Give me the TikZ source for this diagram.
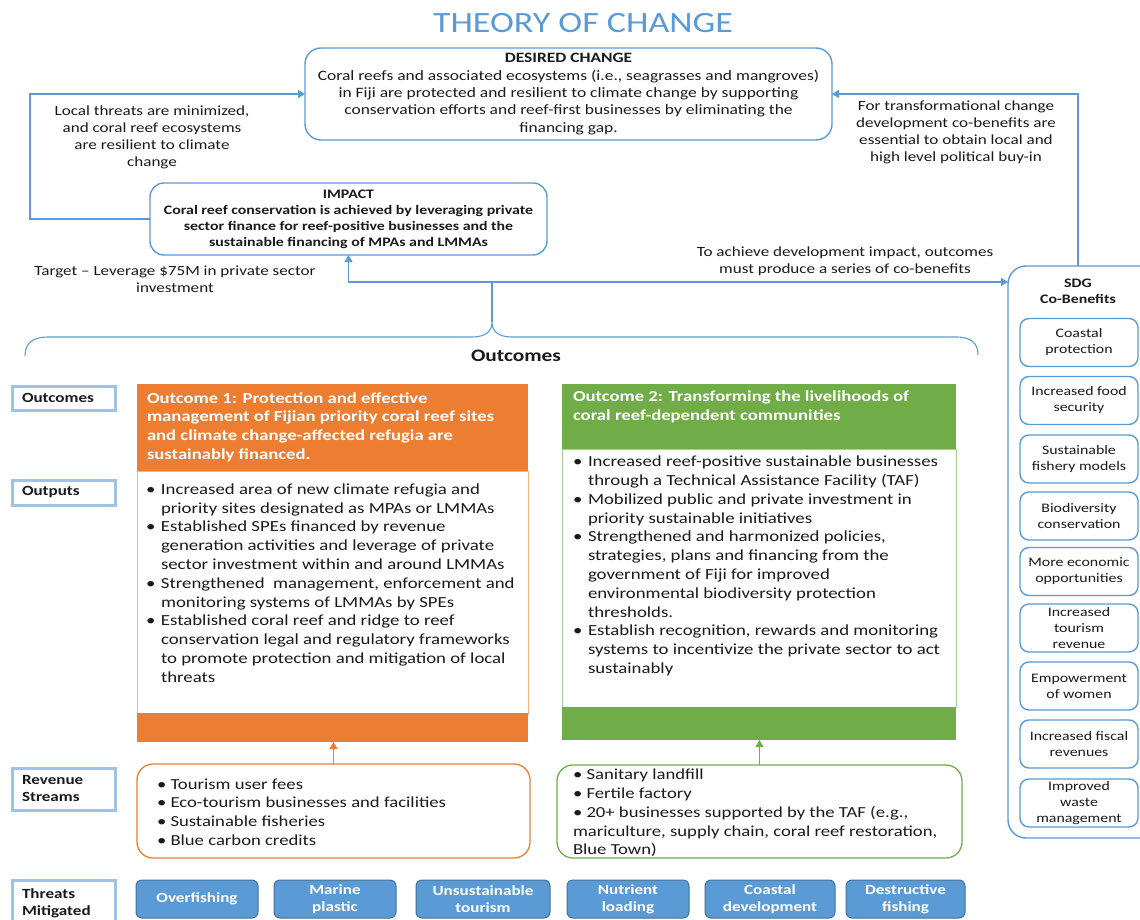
\documentclass[tikz,border=0pt]{standalone}
\usepackage{fontspec}
\setmainfont{Carlito}[FakeStretch=1.22]
\usetikzlibrary{arrows.meta}
\definecolor{lineblue}{HTML}{5B9BD5}
\definecolor{titleblue}{HTML}{5B9BD5}
\definecolor{labelblue}{HTML}{9DC3E6}
\definecolor{oorange}{HTML}{ED7D31}
\definecolor{ogreen}{HTML}{70AD47}
\definecolor{lorange}{HTML}{F4B183}
\definecolor{lgreen}{HTML}{A9D18E}
\definecolor{tfill}{HTML}{5B9BD5}
\definecolor{tdraw}{HTML}{41719C}
\definecolor{txt}{HTML}{1A1A1A}
\newcommand{\fsz}[2]{\fontsize{#1}{#2}\selectfont}
\newcommand{\bul}{\makebox[15pt][l]{\textbullet}}
\newcommand{\ind}{\hspace*{15pt}}
\begin{document}
\begin{tikzpicture}[x=1pt,y=-1pt,
  every node/.style={inner sep=0pt, outer sep=0pt, text=txt},
  conn/.style={draw=lineblue, line width=1.4pt},
  arr/.style={conn, -{Triangle[width=8pt,length=7pt]}},
  oarr/.style={draw=oorange, line width=1.2pt, -{Triangle[width=8pt,length=7pt]}},
  garr/.style={draw=ogreen, line width=1.2pt, -{Triangle[width=8pt,length=7pt]}},
  bluebox/.style={draw=lineblue, line width=1.4pt, fill=white, align=center},
  sdgitem/.style={bluebox, rounded corners=9pt, minimum width=118pt, minimum height=48pt, font=\fsz{13}{16}},
  lab/.style={draw=labelblue, line width=3pt, fill=white, text width=83pt, align=left, inner xsep=10pt, font=\bfseries\fsz{14}{17}, anchor=north west},
  threat/.style={draw=tdraw, line width=1pt, fill=tfill, rounded corners=6pt, minimum height=38pt, text=white, align=center, font=\bfseries\fsz{14}{17}},
  note/.style={align=center, font=\fsz{14}{17}},
  bullets/.style={align=left, anchor=west}
]
\useasboundingbox (0,0) rectangle (1140,920);
\clip (0,0) rectangle (1140,920);
\fill[white] (0,0) rectangle (1140,920);

% title
\node[text=titleblue, font=\fsz{29.5}{35}] (title) at (583,23) {THEORY OF CHANGE};

% desired change
\node[bluebox, rounded corners=16pt, minimum width=527pt, minimum height=92pt, anchor=north west, font=\fsz{14.3}{17.3}] (dc) at (305,48)
 {\textbf{DESIRED CHANGE}\\
  Coral reefs and associated ecosystems (i.e., seagrasses and mangroves)\\
  in Fiji are protected and resilient to climate change by supporting\\
  conservation efforts and reef-first businesses by eliminating the\\
  financing gap.};

% impact
\node[bluebox, rounded corners=14pt, minimum width=397pt, minimum height=72pt, anchor=north west, font=\bfseries\fsz{13}{16}] (impact) at (150,183)
 {IMPACT\\
  Coral reef conservation is achieved by leveraging private\\
  sector finance for reef-positive businesses and the\\
  sustainable financing of MPAs and LMMAs};

% left loop
\coordinate (lc) at (30,94);
\draw[arr] (impact.west) -| (lc) -- (lc -| dc.west);
\node[note] (ltxt) at (152,137) {Local threats are minimized,\\ and coral reef ecosystems\\ are resilient to climate\\ change};

\node[note] (target) at (175,279) {Target -- Leverage \$75M in private sector\\ investment};

% SDG box
\node[bluebox, rounded corners=18pt, minimum width=160pt, minimum height=572pt, anchor=north west] (sdg) at (1008,266) {};
\node[align=center, font=\bfseries\fsz{13}{16}] (sdgt) at (1078,291) {SDG\\ Co-Benefits};
\node[sdgitem] (s1) at (1079,342.5) {Coastal\\ protection};
\node[sdgitem] (s2) at (1079,400.5) {Increased food\\ security};
\node[sdgitem] (s3) at (1079,459) {Sustainable\\ fishery models};
\node[sdgitem] (s4) at (1079,516) {Biodiversity\\ conservation};
\node[sdgitem] (s5) at (1079,571.5) {More economic\\ opportunities};
\node[sdgitem] (s6) at (1079,628) {Increased\\ tourism\\ revenue};
\node[sdgitem] (s7) at (1079,686) {Empowerment\\ of women};
\node[sdgitem] (s8) at (1079,744) {Increased fiscal\\ revenues};
\node[sdgitem] (s9) at (1079,803) {Improved\\ waste\\ management};

% right loop
\coordinate (rc) at (1078,94);
\draw[arr] (sdg.north -| rc) -- (rc) -- (rc -| dc.east);
\node[note] (rtxt) at (956,132) {For transformational change\\ development co-benefits are\\ essential to obtain local and\\ high level political buy-in};

% brace and junction
\coordinate (bt) at (492,322);
\coordinate (j) at (492,282);
\draw[conn, line width=1.1pt] (25,356) .. controls (25,343) and (33,337) .. (48,337) -- (472,337)
   .. controls (486,337) and (492,331) .. (bt)
   .. controls (492,331) and (498,337) .. (512,337) -- (956,337)
   .. controls (971,337) and (978,343) .. (978,355);
\draw[conn] (bt) -- (j);
\draw[arr] (j) -| (impact.south);
\draw[arr] (j) -- (j -| sdg.west);
\node[note] (mtxt) at (845,261) {To achieve development impact, outcomes\\ must produce a series of co-benefits};
\node[font=\bfseries\fsz{17.5}{21}] (outl) at (516,356) {Outcomes};

% left labels
\node[lab, minimum height=24pt] (l1) at (12,386) {Outcomes};
\node[lab, minimum height=25pt] (l2) at (12,480) {Outputs};
\node[lab, minimum height=42pt] (l3) at (12,768) {Revenue\\ Streams};
\node[lab, minimum height=46pt] (l4) at (12,880) {Threats\\ Mitigated};

% outcome 1
\node[fill=oorange, minimum width=391pt, minimum height=87pt, anchor=north west] (o1h) at (137,384) {};
\node[draw=lorange, line width=1pt, fill=white, minimum width=391pt, minimum height=243pt, anchor=north west] (o1b) at (137,471) {};
\node[fill=oorange, minimum width=391pt, minimum height=29pt, anchor=north west] (o1f) at (137,713) {};
\node[bullets, text=white, font=\bfseries\fsz{15.3}{18.7}] (o1ht) at (147,427)
 {Outcome 1: Protection and effective\\
  management of Fijian priority coral reef sites\\
  and climate change-affected refugia are\\
  sustainably financed.};
\node[bullets, font=\fsz{15.4}{18.8}] (o1t) at (146,583)
 {\bul Increased area of new climate refugia and\\
  \ind priority sites designated as MPAs or LMMAs\\
  \bul Established SPEs financed by revenue\\
  \ind generation activities and leverage of private\\
  \ind sector investment within and around LMMAs\\
  \bul Strengthened\ \ management, enforcement and\\
  \ind monitoring systems of LMMAs by SPEs\\
  \bul Established coral reef and ridge to reef\\
  \ind conservation legal and regulatory frameworks\\
  \ind to promote protection and mitigation of local\\
  \ind threats};

% outcome 2
\node[fill=ogreen, minimum width=394pt, minimum height=65pt, anchor=north west] (o2h) at (562,384) {};
\node[draw=lgreen, line width=1pt, fill=white, minimum width=394pt, minimum height=258pt, anchor=north west] (o2b) at (562,449) {};
\node[fill=ogreen, minimum width=394pt, minimum height=33pt, anchor=north west] (o2f) at (562,707) {};
\node[bullets, text=white, font=\bfseries\fsz{15.3}{18.7}] (o2ht) at (573,407)
 {Outcome 2: Transforming the livelihoods of\\
  coral reef-dependent communities};
\node[bullets, font=\fsz{15.4}{18.8}] (o2t) at (573,566)
 {\bul Increased reef-positive sustainable businesses\\
  \ind through a Technical Assistance Facility (TAF)\\
  \bul Mobilized public and private investment in\\
  \ind priority sustainable initiatives\\
  \bul Strengthened and harmonized policies,\\
  \ind strategies, plans and financing from the\\
  \ind government of Fiji for improved\\
  \ind environmental biodiversity protection\\
  \ind thresholds.\\
  \bul Establish recognition, rewards and monitoring\\
  \ind systems to incentivize the private sector to act\\
  \ind sustainably};

% revenue streams
\node[draw=oorange, line width=1.3pt, fill=white, rounded corners=16pt, minimum width=393pt, minimum height=94pt, anchor=north west] (rev1) at (137,764) {};
\node[bullets, font=\fsz{15.3}{18.8}] (rev1t) at (157,812)
 {\textbullet\ Tourism user fees\\
  \textbullet\ Eco-tourism businesses and facilities\\
  \textbullet\ Sustainable fisheries\\
  \textbullet\ Blue carbon credits};
\node[draw=ogreen, line width=1.3pt, fill=white, rounded corners=16pt, minimum width=405pt, minimum height=93pt, anchor=north west] (rev2) at (557,765) {};
\node[bullets, font=\fsz{15.3}{18.8}] (rev2t) at (573,813)
 {\textbullet\ Sanitary landfill\\
  \textbullet\ Fertile factory\\
  \textbullet\ 20+ businesses supported by the TAF (e.g.,\\
  mariculture, supply chain, coral reef restoration,\\
  Blue Town)};
\draw[oarr] (rev1.north) -- (rev1.north |- o1f.south);
\draw[garr] (rev2.north) -- (rev2.north |- o2f.south);

% threats
\node[threat, minimum width=122pt] (t1) at (197,899) {Overfishing};
\node[threat, minimum width=122pt] (t2) at (335,899) {Marine\\ plastic};
\node[threat, minimum width=134pt] (t3) at (483,899) {Unsustainable\\ tourism};
\node[threat, minimum width=122pt] (t4) at (628,899) {Nutrient\\ loading};
\node[threat, minimum width=130pt] (t5) at (770,899) {Coastal\\ development};
\node[threat, minimum width=119pt] (t6) at (905.5,899) {Destructive\\ fishing};
\end{tikzpicture}
\end{document}
